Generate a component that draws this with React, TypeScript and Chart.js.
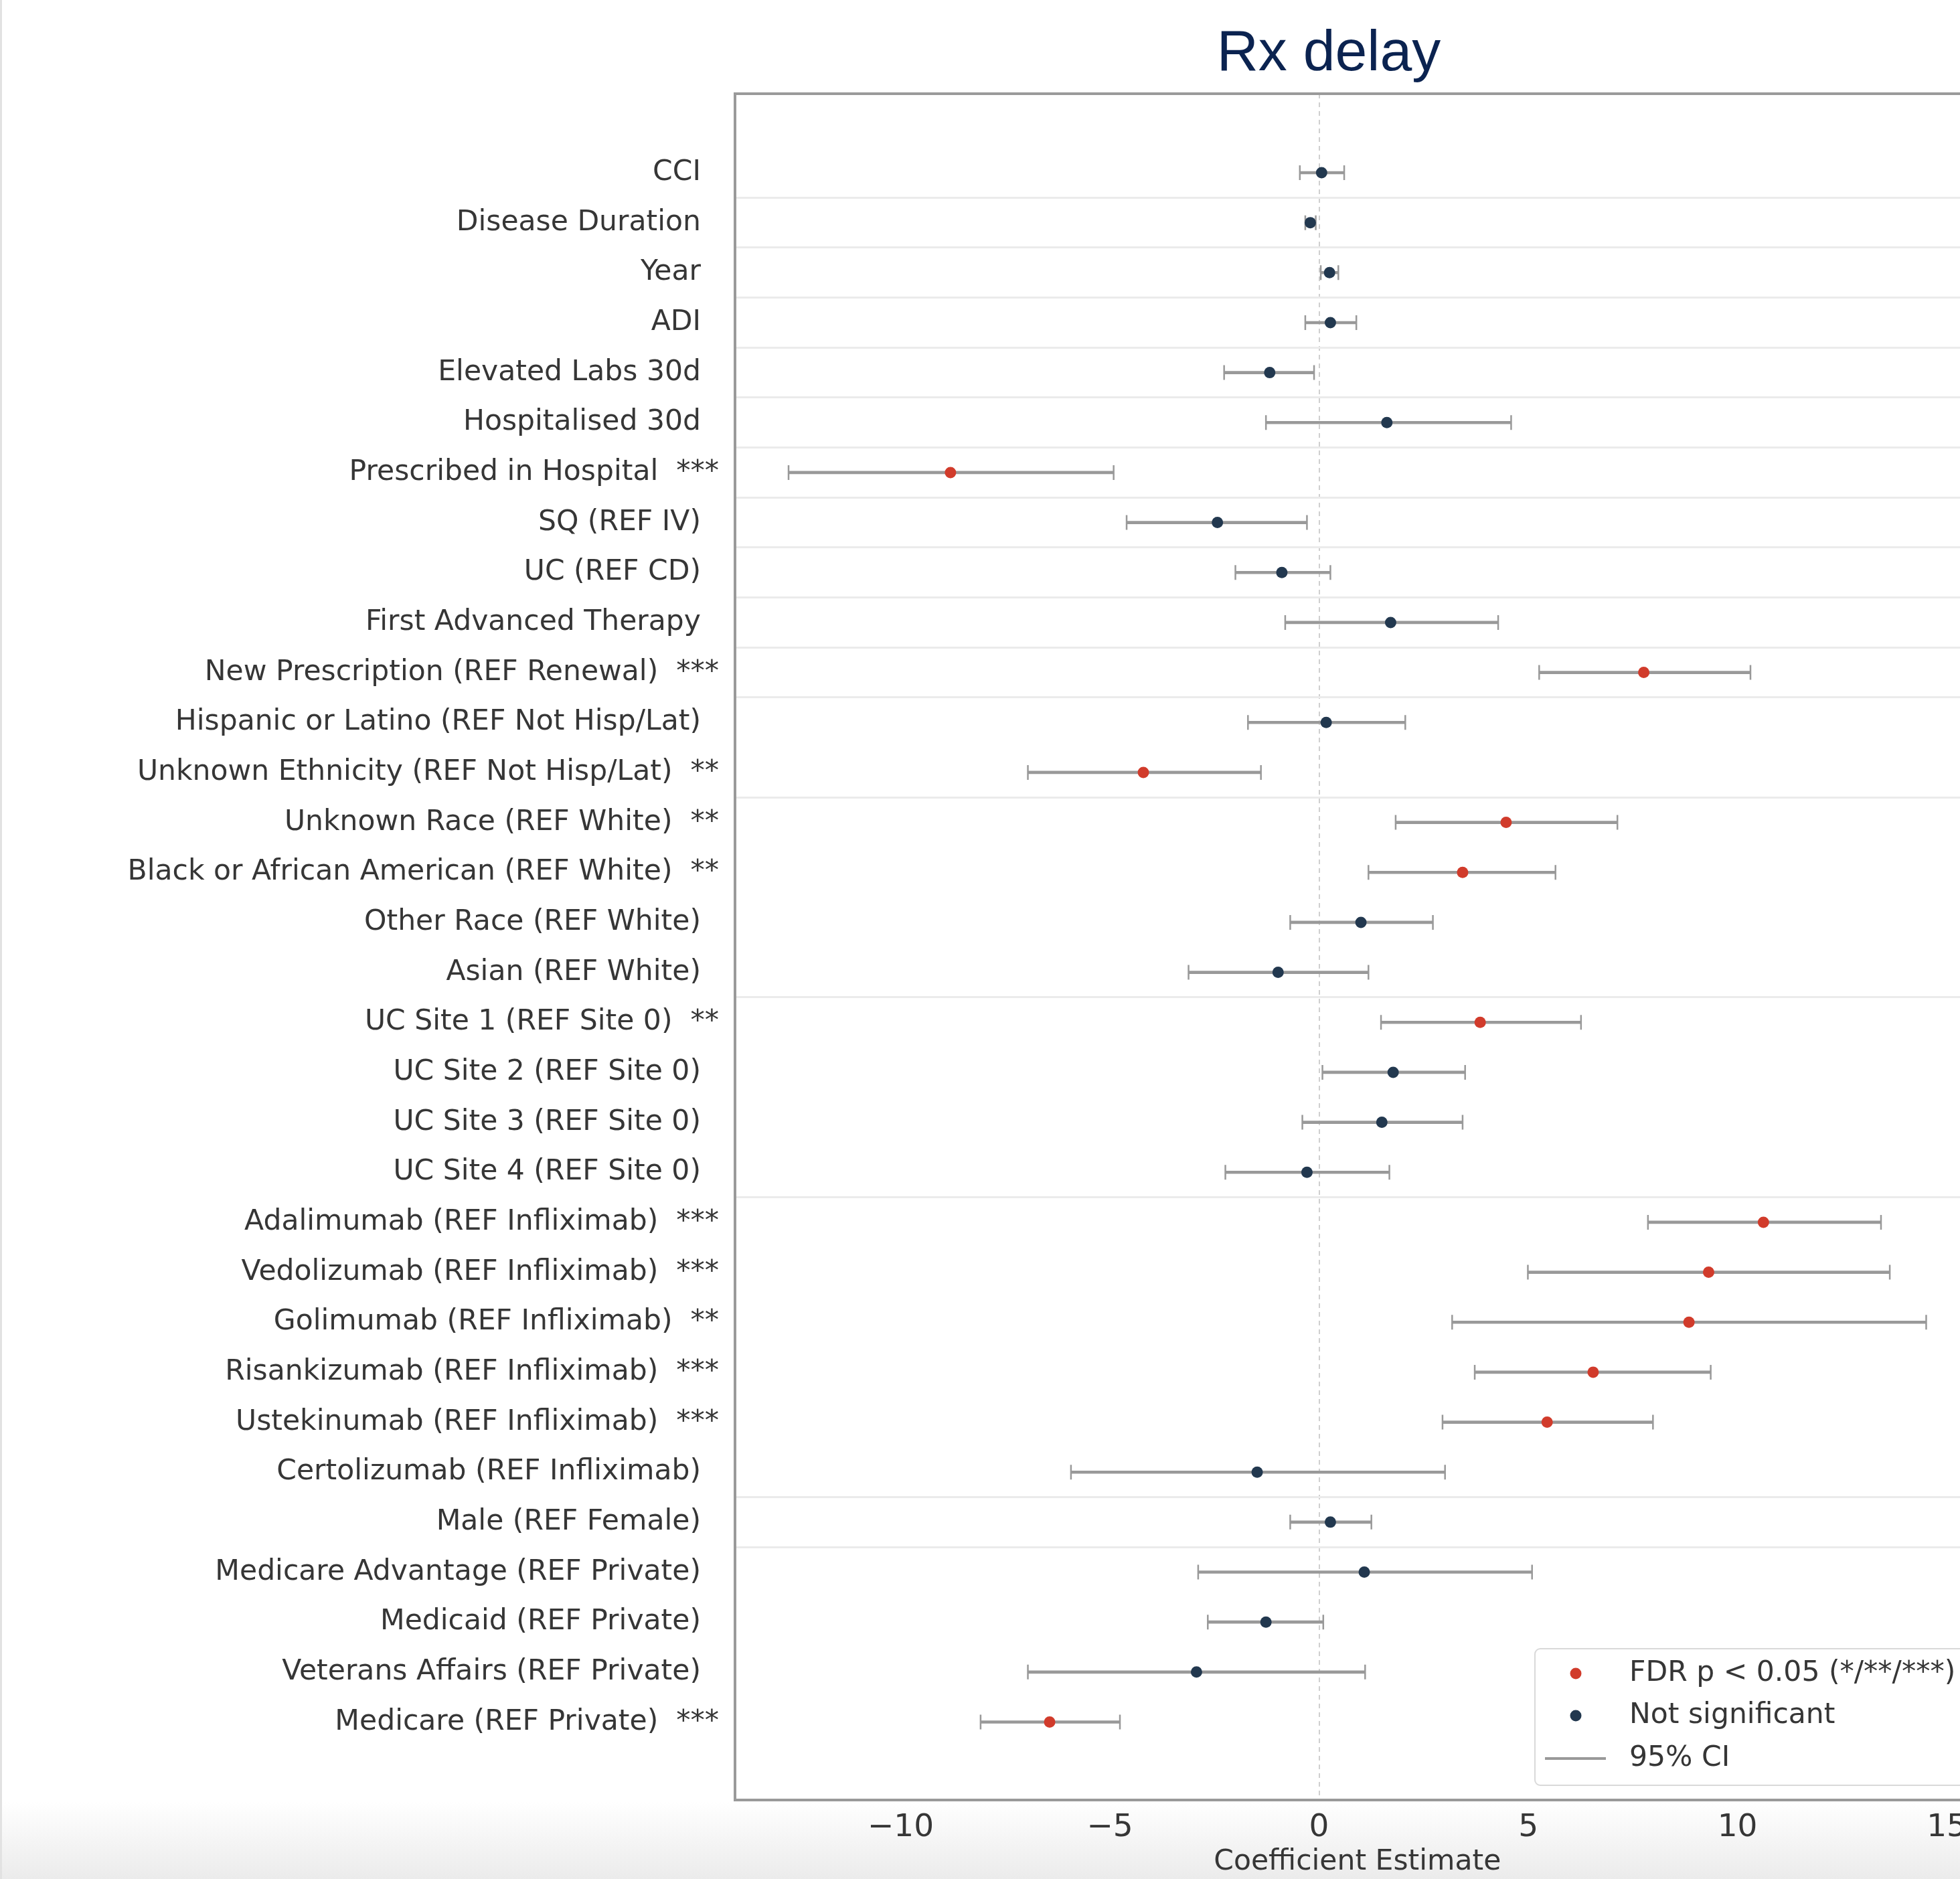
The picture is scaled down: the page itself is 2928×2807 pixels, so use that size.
import React, { useEffect, useRef } from "react";
import { Chart, registerables } from "chart.js";

Chart.register(...registerables);
Chart.defaults.font.family = '"DejaVu Sans", sans-serif';

const chartTitle = "Rx delay";
const xAxisTitle = "Coefficient Estimate";

const labels = [
  "CCI",
  "Disease Duration",
  "Year",
  "ADI",
  "Elevated Labs 30d",
  "Hospitalised 30d",
  "Prescribed in Hospital",
  "SQ (REF IV)",
  "UC (REF CD)",
  "First Advanced Therapy",
  "New Prescription (REF Renewal)",
  "Hispanic or Latino (REF Not Hisp/Lat)",
  "Unknown Ethnicity (REF Not Hisp/Lat)",
  "Unknown Race (REF White)",
  "Black or African American (REF White)",
  "Other Race (REF White)",
  "Asian (REF White)",
  "UC Site 1 (REF Site 0)",
  "UC Site 2 (REF Site 0)",
  "UC Site 3 (REF Site 0)",
  "UC Site 4 (REF Site 0)",
  "Adalimumab (REF Infliximab)",
  "Vedolizumab (REF Infliximab)",
  "Golimumab (REF Infliximab)",
  "Risankizumab (REF Infliximab)",
  "Ustekinumab (REF Infliximab)",
  "Certolizumab (REF Infliximab)",
  "Male (REF Female)",
  "Medicare Advantage (REF Private)",
  "Medicaid (REF Private)",
  "Veterans Affairs (REF Private)",
  "Medicare (REF Private)",
];

const stars = [
  "", "", "", "", "", "", "***", "", "", "", "***", "", "**", "**", "**", "",
  "", "**", "", "", "", "***", "***", "**", "***", "***", "", "", "", "", "", "***",
];

const estimates = [
  0.06, -0.21, 0.25, 0.27, -1.18, 1.62, -8.81, -2.43, -0.89, 1.71, 7.76, 0.17,
  -4.2, 4.47, 3.43, 1.0, -0.98, 3.85, 1.77, 1.5, -0.29, 10.62, 9.31, 8.84, 6.55,
  5.45, -1.48, 0.27, 1.08, -1.27, -2.93, -6.44,
];

const ciLow = [
  -0.46, -0.33, 0.04, -0.33, -2.27, -1.27, -12.68, -4.6, -2.0, -0.81, 5.26, -1.7,
  -6.96, 1.83, 1.18, -0.69, -3.12, 1.48, 0.08, -0.4, -2.24, 7.86, 4.99, 3.18, 3.72,
  2.95, -5.93, -0.69, -2.89, -2.66, -6.96, -8.09,
];

const ciHigh = [
  0.6, -0.08, 0.46, 0.89, -0.12, 4.59, -4.91, -0.29, 0.27, 4.28, 10.31, 2.06,
  -1.39, 7.13, 5.65, 2.72, 1.18, 6.26, 3.49, 3.43, 1.68, 13.43, 13.64, 14.51, 9.36,
  7.98, 3.01, 1.25, 5.09, 0.1, 1.1, -4.76,
];

// group separators (between rows)
const separators = [0.5, 1.5, 2.5, 3.5, 4.5, 5.5, 6.5, 7.5, 8.5, 9.5, 10.5, 12.5, 16.5, 20.5, 26.5, 27.5];

const xTicks = [-10, -5, 0, 5, 10, 15];
const legendLabels = ["FDR p < 0.05 (*/**/***)", "Not significant", "95% CI"];

const RED = "#d13b2b";
const NAVY = "#22384f";
const CI_COLOR = "#999999";
const SPINE = "#9a9a9a";
const TEXT = "#363636";

const X_MIN = -13.96;
const X_MAX = 15.79;
const Y_MIN = -1.58;
const Y_MAX = 32.56;

const overlayPlugin = {
  id: "overlay",
  afterDraw(chart: any) {
    const ctx = chart.ctx as CanvasRenderingContext2D;
    ctx.save();
    // title
    ctx.fillStyle = "#0b2350";
    ctx.font = '86px "Liberation Sans", Arial, sans-serif';
    ctx.textAlign = "center";
    ctx.textBaseline = "alphabetic";
    ctx.fillText(chartTitle, 1985, 105);

    // legend box
    const bx = 2293;
    const by = 2463;
    const bw = 720;
    const bh = 204;
    ctx.beginPath();
    (ctx as any).roundRect(bx, by, bw, bh, 8);
    ctx.fillStyle = "rgba(255,255,255,0.92)";
    ctx.fill();
    ctx.strokeStyle = "#d9d9d9";
    ctx.lineWidth = 2;
    ctx.stroke();

    const rows = [2500, 2563, 2627];
    ctx.fillStyle = RED;
    ctx.beginPath();
    ctx.arc(2354, rows[0], 8.5, 0, Math.PI * 2);
    ctx.fill();
    ctx.fillStyle = NAVY;
    ctx.beginPath();
    ctx.arc(2354, rows[1], 8.5, 0, Math.PI * 2);
    ctx.fill();
    ctx.strokeStyle = CI_COLOR;
    ctx.lineWidth = 4;
    ctx.beginPath();
    ctx.moveTo(2308, rows[2]);
    ctx.lineTo(2399, rows[2]);
    ctx.stroke();

    ctx.fillStyle = TEXT;
    ctx.font = '42.5px "DejaVu Sans", sans-serif';
    ctx.textAlign = "left";
    ctx.textBaseline = "middle";
    legendLabels.forEach((t, i) => ctx.fillText(t, 2434, rows[i]));
    ctx.restore();
  },
};

export default function App() {
  const ref = useRef<HTMLCanvasElement>(null);

  useEffect(() => {
    const canvas = ref.current;
    if (!canvas) return;

    const ciData = labels.map((_, i) => ({ x: [ciLow[i], ciHigh[i]], y: i }));
    const capData: { x: number; y: number }[] = [];
    labels.forEach((_, i) => {
      capData.push({ x: ciLow[i], y: i });
      capData.push({ x: ciHigh[i], y: i });
    });
    const pointData = estimates.map((v, i) => ({ x: v, y: i }));
    const pointColors = stars.map((s) => (s ? RED : NAVY));

    const chart = new Chart(canvas, {
      type: "scatter",
      data: {
        datasets: [
          {
            type: "bar",
            indexAxis: "y",
            data: ciData as any,
            backgroundColor: CI_COLOR,
            borderWidth: 0,
            barThickness: 4,
            order: 3,
            xAxisID: "x",
            yAxisID: "y",
          } as any,
          {
            type: "scatter",
            data: capData,
            pointStyle: "line",
            pointRotation: 90,
            pointRadius: 11,
            pointBorderColor: CI_COLOR,
            pointBorderWidth: 2.5,
            order: 2,
            xAxisID: "x",
            yAxisID: "y",
          } as any,
          {
            type: "scatter",
            data: pointData,
            pointBackgroundColor: pointColors,
            pointBorderWidth: 0,
            pointRadius: 8.5,
            order: 1,
            xAxisID: "x",
            yAxisID: "y",
          } as any,
        ],
      },
      options: {
        animation: false,
        responsive: false,
        maintainAspectRatio: false,
        layout: { padding: { top: 140, right: 4, bottom: 0, left: 0 } },
        plugins: {
          legend: { display: false },
          tooltip: { enabled: false },
          title: { display: false },
        },
        scales: {
          x: {
            type: "linear",
            position: "bottom",
            offset: false,
            beginAtZero: false,
            min: X_MIN,
            max: X_MAX,
            afterBuildTicks: (s: any) => {
              s.ticks = xTicks.map((v) => ({ value: v }));
            },
            afterFit: (s: any) => {
              s.height = 118;
              s.paddingLeft = 0;
              s.paddingRight = 0;
            },
            ticks: {
              autoSkip: false,
              maxRotation: 0,
              padding: 14,
              color: TEXT,
              font: { size: 47 },
              callback: (v: any) => (v < 0 ? "\u2212" + Math.abs(v) : String(v)),
            },
            grid: {
              offset: false,
              drawTicks: false,
              lineWidth: 2,
              color: (c: any) => (c.tick && c.tick.value === 0 ? "#cfcfcf" : "rgba(0,0,0,0)"),
            },
            border: { display: true, color: SPINE, width: 4, dash: [7, 6] },
            title: {
              display: true,
              text: xAxisTitle,
              color: TEXT,
              font: { size: 42.5 },
              padding: 0,
            },
          },
          xTop: {
            type: "linear",
            position: "top",
            offset: false,
            min: X_MIN,
            max: X_MAX,
            afterFit: (s: any) => {
              s.height = 0;
              s.paddingLeft = 0;
              s.paddingRight = 0;
            },
            ticks: { display: false },
            grid: { display: false, drawTicks: false },
            border: { display: true, color: SPINE, width: 4 },
          },
          y: {
            type: "linear",
            position: "left",
            reverse: true,
            offset: false,
            min: Y_MIN,
            max: Y_MAX,
            afterBuildTicks: (s: any) => {
              s.ticks = labels.map((_, i) => ({ value: i }));
            },
            afterFit: (s: any) => {
              s.width = 1098;
              s.paddingTop = 0;
              s.paddingBottom = 0;
            },
            ticks: {
              autoSkip: false,
              padding: 24,
              color: TEXT,
              font: { size: 42.5 },
              callback: (v: any) => labels[v] + "  " + stars[v],
            },
            grid: { display: false, drawTicks: false, offset: false },
            border: { display: true, color: SPINE, width: 4 },
          },
          ySep: {
            type: "linear",
            position: "right",
            reverse: true,
            offset: false,
            min: Y_MIN,
            max: Y_MAX,
            afterBuildTicks: (s: any) => {
              s.ticks = separators.map((v) => ({ value: v }));
            },
            afterFit: (s: any) => {
              s.width = 0;
              s.paddingTop = 0;
              s.paddingBottom = 0;
            },
            ticks: { display: false },
            grid: { display: true, drawTicks: false, color: "#ebebeb", lineWidth: 3, offset: false },
            border: { display: false },
          },
        },
      } as any,
      plugins: [overlayPlugin],
    });

    return () => chart.destroy();
  }, []);

  return (
    <div
      style={{
        position: "absolute",
        left: 0,
        top: 0,
        width: 2928,
        height: 2807,
        overflow: "hidden",
        background: "linear-gradient(to bottom, #ffffff 0px, #ffffff 2692px, #ebebeb 2807px)",
      }}
    >
      <canvas ref={ref} width={2971} height={2807} style={{ width: 2971, height: 2807, display: "block" }} />
      <div style={{ position: "absolute", left: 0, top: 0, width: 3, height: 2807, background: "#e2e2e2" }} />
    </div>
  );
}
